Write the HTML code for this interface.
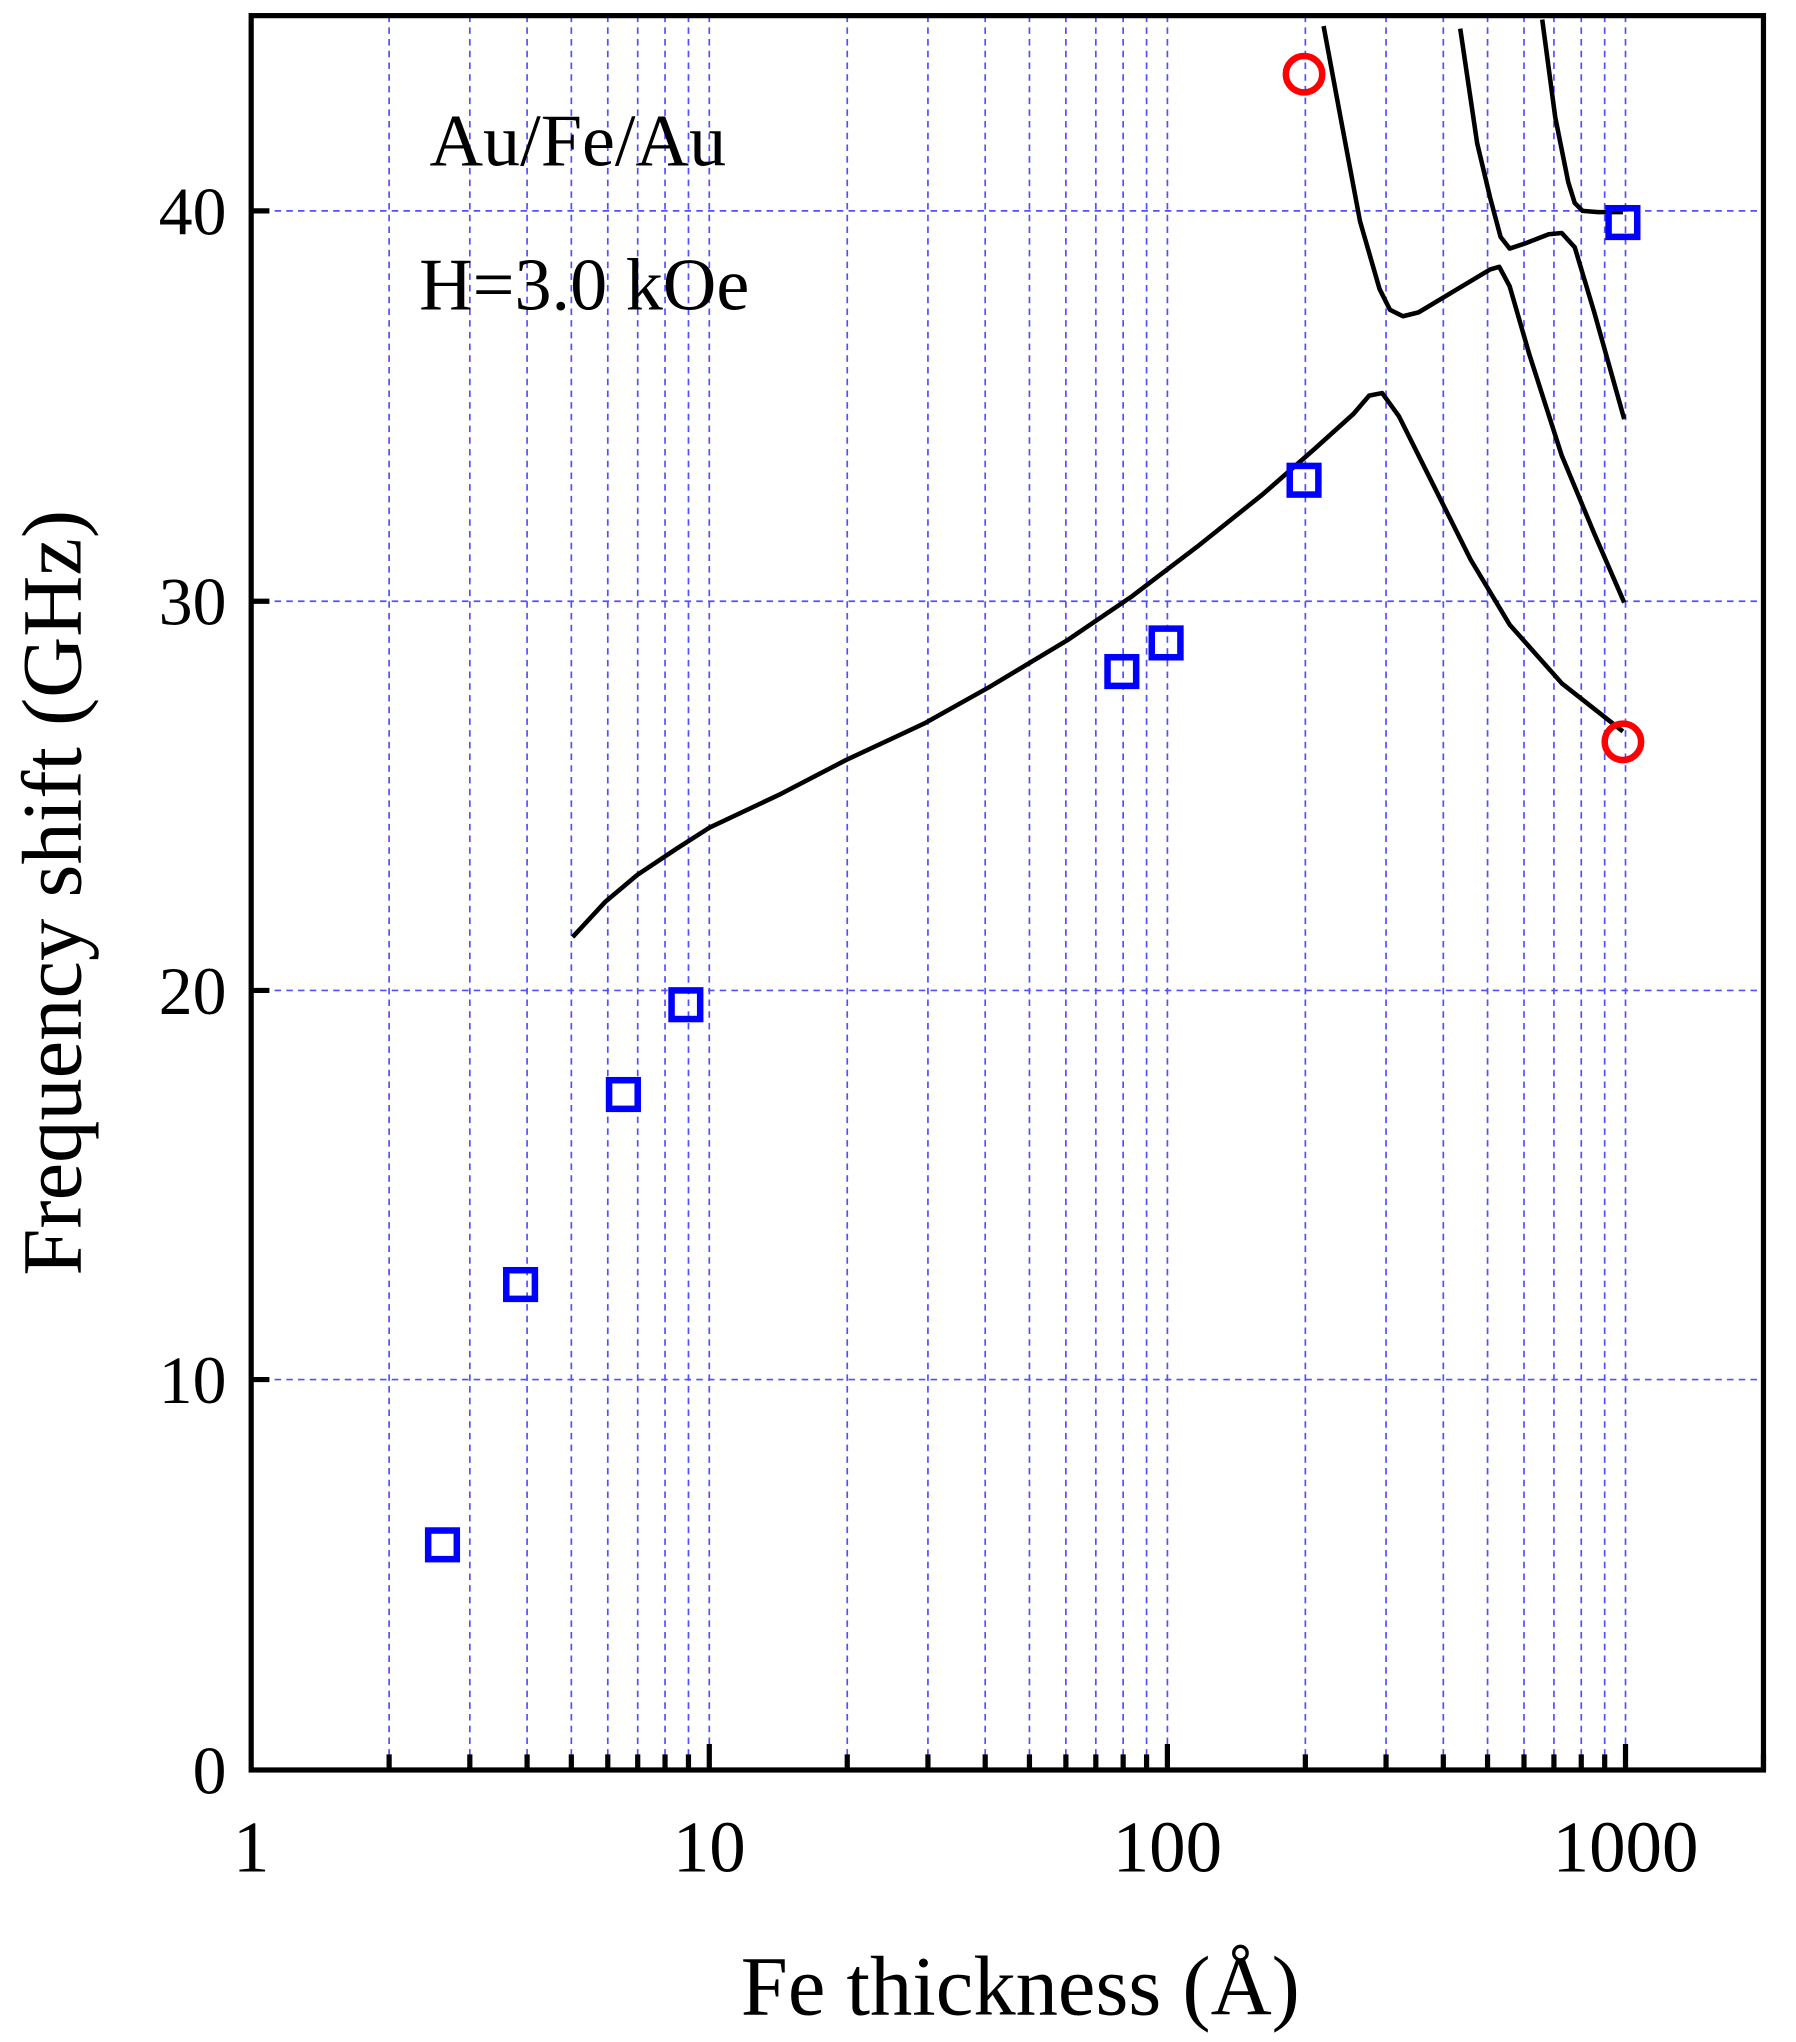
<!DOCTYPE html>
<html><head><meta charset="utf-8"><style>html,body{margin:0;padding:0;background:#fff}svg{display:block}</style></head>
<body>
<svg width="1796" height="2042" viewBox="0 0 1380 1569" xmlns="http://www.w3.org/2000/svg" font-family="Liberation Serif, serif">
<g stroke="#5050ff" stroke-width="1.3" stroke-dasharray="5,4" fill="none">
<path d="M299,12V1360M361,12V1360M405,12V1360M439,12V1360M467,12V1360M490,12V1360M511,12V1360M529,12V1360M545,12V1360
M651,12V1360M713,12V1360M757,12V1360M791,12V1360M819,12V1360M842,12V1360M863,12V1360M881,12V1360M897,12V1360
M1003,12V1360M1065,12V1360M1109,12V1360M1143,12V1360M1171,12V1360M1194,12V1360M1215,12V1360M1233,12V1360M1249,12V1360
M193,1060H1355M193,761H1355M193,462H1355M193,162H1355"/>
</g>
<g stroke="#000" stroke-width="4" fill="none">
<rect x="193" y="12" width="1162" height="1348"/>
<path d="M299,1360v-12M361,1360v-12M405,1360v-12M439,1360v-12M467,1360v-12M490,1360v-12M511,1360v-12M529,1360v-12M545,1360v-20
M651,1360v-12M713,1360v-12M757,1360v-12M791,1360v-12M819,1360v-12M842,1360v-12M863,1360v-12M881,1360v-12M897,1360v-20
M1003,1360v-12M1065,1360v-12M1109,1360v-12M1143,1360v-12M1171,1360v-12M1194,1360v-12M1215,1360v-12M1233,1360v-12M1249,1360v-20
M1355,1360v-12M193,1060h14M193,761h14M193,462h14M193,162h14"/>
</g>
<g stroke="#000" stroke-width="3.5" fill="none" stroke-linejoin="round">
<path d="M440,720 L465,693 L490,672 L520,652 L545,636 L600,610 L650,584 L710,556 L760,528 L820,492 L870,458 L920,420 L970,380 L1010,345 L1040,318 L1052,304 L1062,302 L1075,320 L1100,370 L1130,430 L1160,480 L1200,525 L1247,562"/>
<path d="M1017,20 L1030,90 L1045,170 L1060,222 L1068,238 L1078,243 L1090,240 L1120,222 L1145,207 L1152,205 L1160,220 L1175,272 L1200,350 L1225,410 L1248,463"/>
<path d="M1122,22 L1135,110 L1145,152 L1153,182 L1160,191 L1172,187 L1190,180 L1200,179 L1210,190 L1225,240 L1248,322"/>
<path d="M1185,15 L1195,90 L1205,140 L1210,156 L1216,162 L1228,163 L1247,163"/>
</g>
<g stroke="#0000ff" stroke-width="5" fill="none">
<rect x="329" y="1176" width="22" height="22"/>
<rect x="389" y="976" width="22" height="22"/>
<rect x="468" y="830" width="22" height="22"/>
<rect x="516" y="761" width="22" height="22"/>
<rect x="851" y="505" width="22" height="22"/>
<rect x="885" y="483" width="22" height="22"/>
<rect x="991" y="358" width="22" height="22"/>
<rect x="1236" y="160" width="22" height="22"/>
</g>
<g stroke="#ff0000" stroke-width="5" fill="none">
<circle cx="1002" cy="57" r="14"/>
<circle cx="1247" cy="570" r="14"/>
</g>
<g font-size="52" fill="#000" text-anchor="end">
<text x="174" y="1378">0</text>
<text x="174" y="1078">10</text>
<text x="174" y="779">20</text>
<text x="174" y="480">30</text>
<text x="174" y="180">40</text>
</g>
<g font-size="56" fill="#000" text-anchor="middle">
<text x="193" y="1438">1</text>
<text x="545" y="1438">10</text>
<text x="897" y="1438">100</text>
<text x="1249" y="1438">1000</text>
</g>
<text x="784" y="1548" font-size="65" text-anchor="middle">Fe thickness (Å)</text>
<text transform="translate(62,686) rotate(-90)" font-size="65" text-anchor="middle">Frequency shift (GHz)</text>
<text x="330" y="127" font-size="57">Au/Fe/Au</text>
<text x="322" y="238" font-size="57">H=3.0 kOe</text>
</svg>
</body></html>
